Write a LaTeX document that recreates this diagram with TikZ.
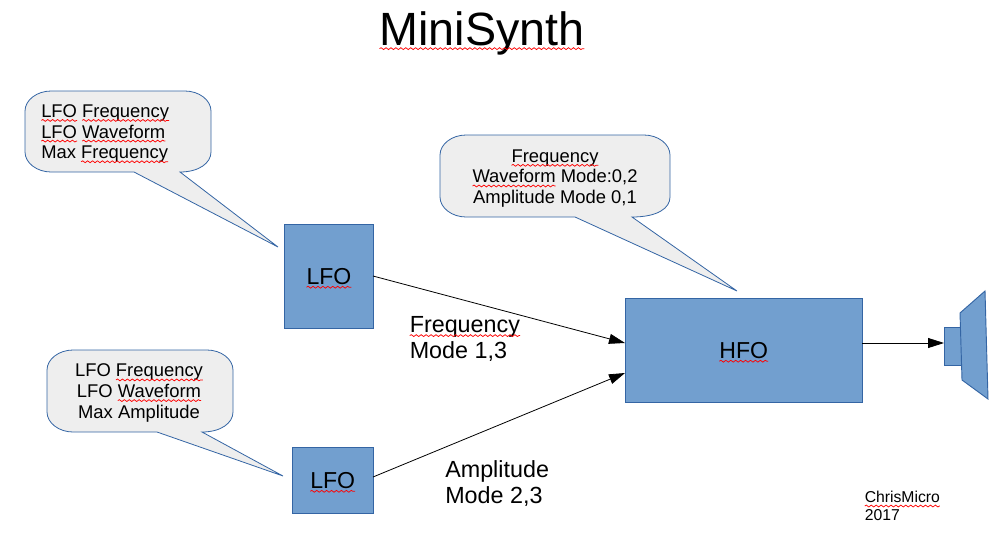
\documentclass[tikz,border=0pt]{standalone}
\usepackage{fontspec}
\setmainfont{Liberation Sans}
\usetikzlibrary{decorations.pathmorphing,arrows.meta}
\definecolor{boxfill}{HTML}{729FCF}
\definecolor{boxline}{HTML}{3465A4}
\definecolor{callfill}{HTML}{EEEEEE}
\newsavebox{\sqbox}
\newcommand{\sq}[1]{\sbox{\sqbox}{#1}\mbox{\usebox{\sqbox}\kern-\wd\sqbox\begin{tikzpicture}[overlay,x=1pt,y=1pt,baseline=0pt]
\draw[red,line width=.55pt,decorate,decoration={snake,amplitude=.7pt,segment length=3.7pt}] (0pt,-2.3pt) -- (\the\wd\sqbox,-2.3pt);
\end{tikzpicture}\kern\wd\sqbox}}
\tikzset{
 px/.style={x=.75pt,y=-.75pt},
 box/.style={draw=boxline,fill=boxfill,line width=.7pt},
 bubble/.style={draw=boxline,fill=callfill,line width=.6pt},
 lbl/.style={font=\fontsize{13.8pt}{15.5pt}\selectfont,inner sep=0pt,anchor=center},
 big/.style={font=\fontsize{17.5pt}{19.5pt}\selectfont,inner sep=0pt,align=left,anchor=west},
 conn/.style={draw=black,line width=.6pt,-{Triangle[length=12pt,width=7.5pt]},shorten >=0pt},
 sqnode/.style={inner sep=0pt,font=\fontsize{17.3pt}{19pt}\selectfont}
}
\begin{document}
\begin{tikzpicture}[px]
\useasboundingbox (0,0) rectangle (1005,550);
% title
\node[inner sep=0pt,font=\fontsize{35pt}{40pt}\selectfont] (title) at (482,33.5) {\sq{MiniSynth}};
% callout 1
\draw[bubble] (51,91) -- (185,91) .. controls (199,91) and (211,100) .. (211,111) -- (211,152) .. controls (211,163) and (199,172) .. (180,172) -- (278,247) -- (134,172) -- (51,172) .. controls (37,172) and (25,163) .. (25,152) -- (25,111) .. controls (25,100) and (37,91) .. (51,91) -- cycle;
% callout 2
\draw[bubble] (73,350) -- (207,350) .. controls (221,350) and (233,359) .. (233,370) -- (233,412) .. controls (233,423) and (221,432) .. (202,432) -- (283,476) -- (157,432) -- (73,432) .. controls (59,432) and (47,423) .. (47,412) -- (47,370) .. controls (47,359) and (59,350) .. (73,350) -- cycle;
% callout 3
\draw[bubble] (466,135) -- (644,135) .. controls (658,135) and (670,144) .. (670,155) -- (670,197) .. controls (670,208) and (658,217) .. (632,217) -- (737,291) -- (575,217) -- (466,217) .. controls (452,217) and (440,208) .. (440,197) -- (440,155) .. controls (440,144) and (452,135) .. (466,135) -- cycle;
\node[lbl,align=left,anchor=west] (t1) at (41,133.5) {\sq{LFO} \sq{Frequency}\\\sq{LFO} \sq{Waveform}\\Max \sq{Frequency}};
\node[lbl,align=center] (t2) at (139,393) {LFO \sq{Frequency}\\LFO \sq{Waveform}\\Max Amplitude};
\node[lbl,align=center] (t3) at (555,178.5) {\sq{Frequency}\\\sq{Waveform} Mode:0,2\\Amplitude Mode 0,1};
% boxes
\node[box,sqnode,minimum width=66.9pt,minimum height=78pt] (lfoa) at (329,276.2) {\sq{LFO}};
\node[box,sqnode,minimum width=61pt,minimum height=49.5pt] (lfob) at (332.7,480.3) {\sq{LFO}};
\node[box,sqnode,minimum width=178pt,minimum height=78pt] (hfo) at (743.7,350.2) {\sq{HFO}};
% speaker
\node[box,inner sep=0pt,minimum width=13pt,minimum height=28.5pt] (spk) at (952.7,346) {};
\draw[box] (960,313) -- (985,291) -- (988,399) -- (962,380) -- cycle;
% connectors
\coordinate (ha) at (625,343);
\coordinate (hb) at (625,373);
\coordinate (ha0) at (373,276);
\coordinate (hb0) at (373,477);
\coordinate (hc) at (862,343);
\coordinate (sc) at (944,343);
\draw[conn] (ha0) -- (ha);
\draw[conn] (hb0) -- (hb);
\draw[conn] (hc) -- (sc);
% labels
\node[big] (fl) at (409.5,339) {\sq{Frequency}\\Mode 1,3};
\node[big] (al) at (445,484) {Amplitude\\Mode 2,3};
\node[inner sep=0pt,align=left,anchor=west,font=\fontsize{11.8pt}{13pt}\selectfont] (cm) at (864.5,506) {\sq{ChrisMicro}\\2017};
\end{tikzpicture}
\end{document}
